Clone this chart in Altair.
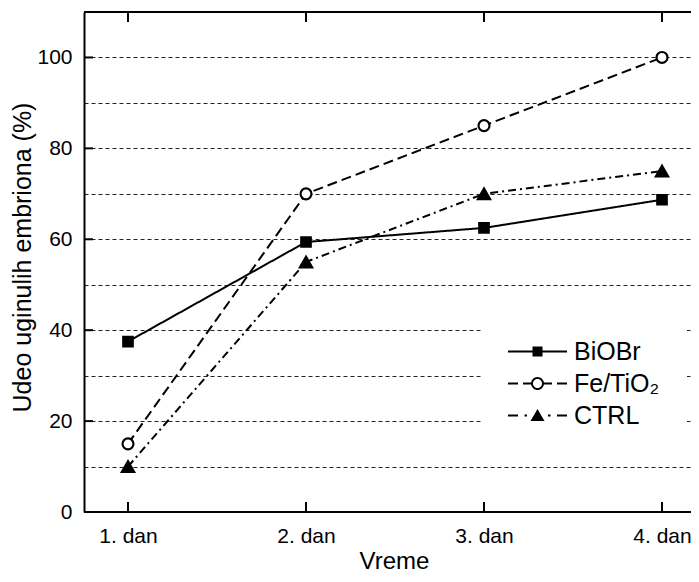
import json
import math
import altair as alt
import pandas as pd

# ---- data ----
days = ["1. dan", "2. dan", "3. dan", "4. dan"]
series = ["BiOBr", "Fe/TiO₂", "CTRL"]
biobr = [37.5, 59.4, 62.5, 68.7]
fetio2 = [15, 70, 85, 100]
ctrl = [10, 55, 70, 75]
y_grid_values = [0, 10, 20, 30, 40, 50, 60, 70, 80, 90, 100]
y_tick_values = [20, 40, 60, 80, 100]

day_pos = list(range(1, len(days) + 1))

rows = []
for name, vals in zip(series, [biobr, fetio2, ctrl]):
    for p, v in zip(day_pos, vals):
        rows.append({"idx": p, "value": v, "series": name})
df = pd.DataFrame(rows)

W, H = 607, 500
FONT = "Liberation Sans"

# plot area is cut at the right edge in the reference: first category sits 44px
# from the left frame, categories are 178px apart
xscale = alt.Scale(domain=[1 - 44 / 178, 1 + (W - 44) / 178], nice=False, zero=False)
yscale = alt.Scale(domain=[0, 110], nice=False, zero=True)

label_expr = json.dumps(days) + "[round(datum.value) - 1]"

x_main = alt.X(
    "idx:Q", scale=xscale,
    axis=alt.Axis(title="Vreme", values=day_pos, labelExpr=label_expr, labelAngle=0,
                  tickSize=0, domain=False, grid=False, labelFlush=False,
                  labelPadding=13, titlePadding=3, titleX=310, labelFontSize=21,
                  titleFontSize=24, labelFont=FONT, titleFont=FONT, labelColor="black",
                  titleColor="black", titleFontWeight="normal"),
)
y_main = alt.Y(
    "value:Q", scale=yscale,
    axis=alt.Axis(title="Udeo uginulih embriona (%)", values=y_grid_values,
                  labelExpr="datum.value % 20 == 0 ? datum.label : ''",
                  tickSize=0, domain=True, domainColor="black", domainWidth=2,
                  grid=True, gridDash=[4, 3], gridColor="#222222",
                  gridWidth=1, labelPadding=12, titlePadding=1, titleY=245,
                  labelFontSize=21, titleFontSize=25, labelFont=FONT, titleFont=FONT,
                  labelColor="black", titleColor="black", titleFontWeight="normal"),
)

dash_scale = alt.Scale(domain=series, range=[[1, 0], [10, 5], [8, 4, 2, 4]])


def bar(x0, x1, t=0.2):
    return f"M{x0},{-t}H{x1}V{t}H{x0}Z"


def ring(ro, ri, n=32):
    outer = "M" + "L".join(
        f"{ro * math.cos(2 * math.pi * k / n):.3f},{ro * math.sin(2 * math.pi * k / n):.3f}"
        for k in range(n)) + "Z"
    inner = "M" + "L".join(
        f"{ri * math.cos(-2 * math.pi * k / n):.3f},{ri * math.sin(-2 * math.pi * k / n):.3f}"
        for k in range(n)) + "Z"
    return outer + inner


# legend symbols: line + marker drawn as one filled custom path
legend_paths = [
    bar(-5.9, 5.9) + "M-1,-1H1V1H-1Z",
    bar(-5.9, -3.9) + bar(-2.9, -1.2) + bar(1.2, 2.9) + bar(3.9, 5.9) + ring(1.3, 0.9),
    bar(-5.9, -3.9) + bar(-2.6, -2.1) + bar(2.1, 2.6) + bar(3.9, 5.9)
    + "M0,-1.3L1.4,1.1H-1.4Z",
]
legend_shape_scale = alt.Scale(domain=series, range=legend_paths)
legend_fill_scale = alt.Scale(domain=series, range=["black", "black", "black"])

legend_def = alt.Legend(
    title=None, orient="none", legendX=397, legendY=300, padding=27,
    fillColor="white", symbolSize=100, symbolStrokeWidth=2, symbolStrokeColor="transparent",
    symbolOpacity=1, symbolOffset=17, labelOffset=24,
    labelFontSize=25, labelFont=FONT, labelColor="black", rowPadding=6,
)

base = alt.Chart(df)

lines = base.mark_line(color="black", strokeWidth=2).encode(
    x=x_main, y=y_main,
    strokeDash=alt.StrokeDash("series:N", scale=dash_scale, legend=None),
)

marker_shapes = ["square", "circle", "triangle-up"]
marker_fills = ["black", "white", "black"]
marker_sizes = [90, 120, 150]
point_layers = []
for name, shp, fc, sz in zip(series, marker_shapes, marker_fills, marker_sizes):
    point_layers.append(
        base.transform_filter(alt.datum.series == name).mark_point(
            shape=shp, filled=True, fill=fc, stroke="black", strokeWidth=2.2,
            opacity=1, size=sz
        ).encode(x=x_main, y=y_main)
    )

legend_layer = base.transform_filter("false").mark_point(
    filled=True, stroke="black", strokeWidth=2, opacity=1, size=100
).encode(
    x=x_main, y=y_main,
    shape=alt.Shape("series:N", scale=legend_shape_scale, legend=legend_def),
    fill=alt.Fill("series:N", scale=legend_fill_scale, legend=legend_def),
)

ytick_df = pd.DataFrame({"value": y_tick_values})
yticks = alt.Chart(ytick_df).mark_rule(color="black", strokeWidth=2).encode(
    y=alt.Y("value:Q", scale=yscale), x=alt.value(0), x2=alt.value(9)
)

xtick_df = pd.DataFrame({"idx": day_pos})
xticks_bottom = alt.Chart(xtick_df).mark_rule(color="black", strokeWidth=2).encode(
    x=alt.X("idx:Q", scale=xscale), y=alt.value(H), y2=alt.value(H - 10)
)
xticks_top = alt.Chart(xtick_df).mark_rule(color="black", strokeWidth=2).encode(
    x=alt.X("idx:Q", scale=xscale), y=alt.value(0), y2=alt.value(10)
)

frame_df = pd.DataFrame({"k": [0]})
frame_top = alt.Chart(frame_df).mark_rule(color="black", strokeWidth=2).encode(
    x=alt.value(0), x2=alt.value(W), y=alt.value(0)
)
frame_bottom = alt.Chart(frame_df).mark_rule(color="black", strokeWidth=2).encode(
    x=alt.value(0), x2=alt.value(W), y=alt.value(H)
)

chart = (
    alt.layer(yticks, xticks_bottom, xticks_top, lines, *point_layers, legend_layer,
              frame_top, frame_bottom)
    .resolve_scale(shape="independent", fill="independent")
    .properties(width=W, height=H, background="white",
                autosize=alt.AutoSizeParams(type="none"),
                padding={"left": 76, "top": 4, "right": 0, "bottom": 62})
    .configure_view(stroke=None)
)

chart.save("out.html", embed_options={"renderer": "svg", "actions": False})
